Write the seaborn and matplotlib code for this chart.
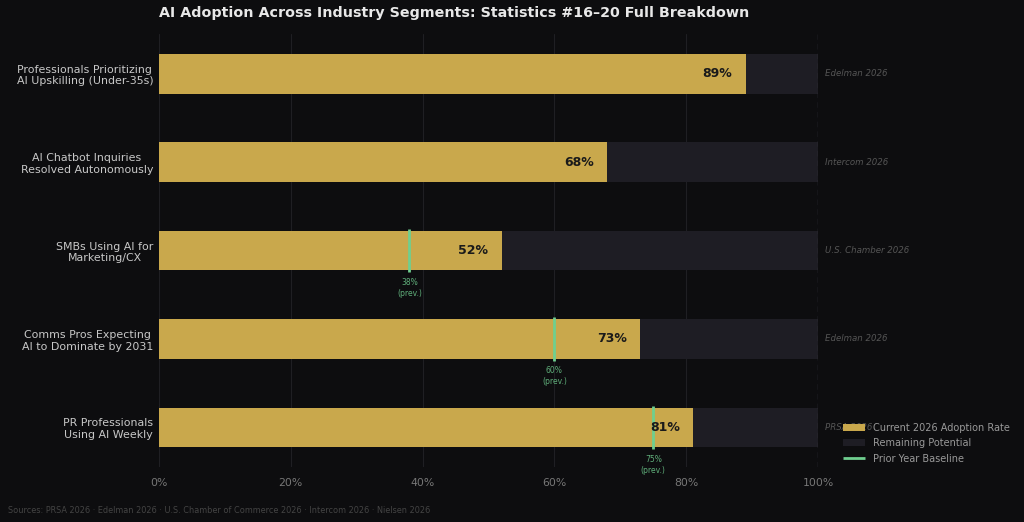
import numpy as np
import matplotlib.pyplot as plt
import pandas as pd
import seaborn as sns

labels = ['Professionals Prioritizing\nAI Upskilling (Under-35s)',
          'AI Chatbot Inquiries\nResolved Autonomously',
          'SMBs Using AI for\nMarketing/CX',
          'Comms Pros Expecting\nAI to Dominate by 2031',
          'PR Professionals\nUsing AI Weekly']
current = [89, 68, 52, 73, 81]
prior = [None, None, 38, 60, 75]
sources = ['Edelman 2026', 'Intercom 2026', 'U.S. Chamber 2026', 'Edelman 2026', 'PRSA 2026']

BG = '#0d0d0f'
GOLD = '#c9a84c'
REMAIN = '#1e1d24'
GREEN = '#6fcf8f'

sns.set_style('dark')
plt.rcParams['font.family'] = ['DejaVu Sans']

df = pd.DataFrame({'label': labels, 'current': current, 'full': [100] * len(labels)})

fig = plt.figure(figsize=(10.24, 5.22), dpi=100, facecolor=BG)
ax = fig.add_axes([0.155, 0.105, 0.644, 0.83])
ax.set_facecolor(BG)

sns.barplot(data=df, x='full', y='label', orient='h', color=REMAIN, width=0.45,
            saturation=1, ax=ax, label='Remaining Potential', zorder=2, linewidth=0)
sns.barplot(data=df, x='current', y='label', orient='h', color=GOLD, width=0.45,
            saturation=1, ax=ax, label='Current 2026 Adoption Rate', zorder=3, linewidth=0)

for i, v in enumerate(current):
    ax.text(v - 2, i, f'{v}%', ha='right', va='center', fontsize=9,
            fontweight='bold', color='#1a1a1a', zorder=5)
    ax.text(101.1, i, sources[i], ha='left', va='center', fontsize=6.2,
            style='italic', color='#555555', clip_on=False)
    p = prior[i]
    if p is not None:
        ax.plot([p, p], [i - 0.245, i + 0.245], color=GREEN, lw=2, zorder=4,
                solid_capstyle='butt',
                label='Prior Year Baseline' if i == 2 else None)
        ax.text(p, i + 0.31, f'{p}%\n(prev.)', ha='center', va='top', fontsize=5.5,
                color='#5fae7a', linespacing=1.25)

ax.axvline(100, color='#3a3a3e', lw=1, ls=(0, (4, 3)), zorder=6)
ax.set_xlim(0, 100)
ax.set_ylim(4.45, -0.45)
ax.set_xticks(range(0, 101, 20))
ax.set_xticklabels([f'{t}%' for t in range(0, 101, 20)])
ax.tick_params(axis='x', colors='#777777', labelsize=7.8, length=0, pad=8)
ax.tick_params(axis='y', colors='#c8c8c8', labelsize=7.9, length=0, pad=4)
for t in ax.get_yticklabels():
    t.set_color('#c8c8c8')
    t.set_multialignment('center')
ax.grid(axis='x', color='#1f1f23', lw=0.8, zorder=0)
ax.grid(axis='y', visible=False)
ax.set_xlabel('')
ax.set_ylabel('')
for s in ax.spines.values():
    s.set_visible(False)

h, l = ax.get_legend_handles_labels()
order = [l.index('Current 2026 Adoption Rate'), l.index('Remaining Potential'), l.index('Prior Year Baseline')]
leg = ax.legend([h[k] for k in order], [l[k] for k in order], loc='lower left',
                bbox_to_anchor=(1.025, -0.012), frameon=False, fontsize=7,
                labelcolor='#999999', handlelength=2.2, labelspacing=0.55)

fig.text(0.155, 0.975, 'AI Adoption Across Industry Segments: Statistics #16\u201320 Full Breakdown',
         ha='left', va='center', fontsize=10.3, fontweight='bold', color='#e8e8e8')
fig.text(0.008, 0.022, 'Sources: PRSA 2026 \u00b7 Edelman 2026 \u00b7 U.S. Chamber of Commerce 2026 \u00b7 Intercom 2026 \u00b7 Nielsen 2026',
         ha='left', va='center', fontsize=5.9, color='#444444')

fig.savefig('out.png', dpi=100, facecolor=BG)
